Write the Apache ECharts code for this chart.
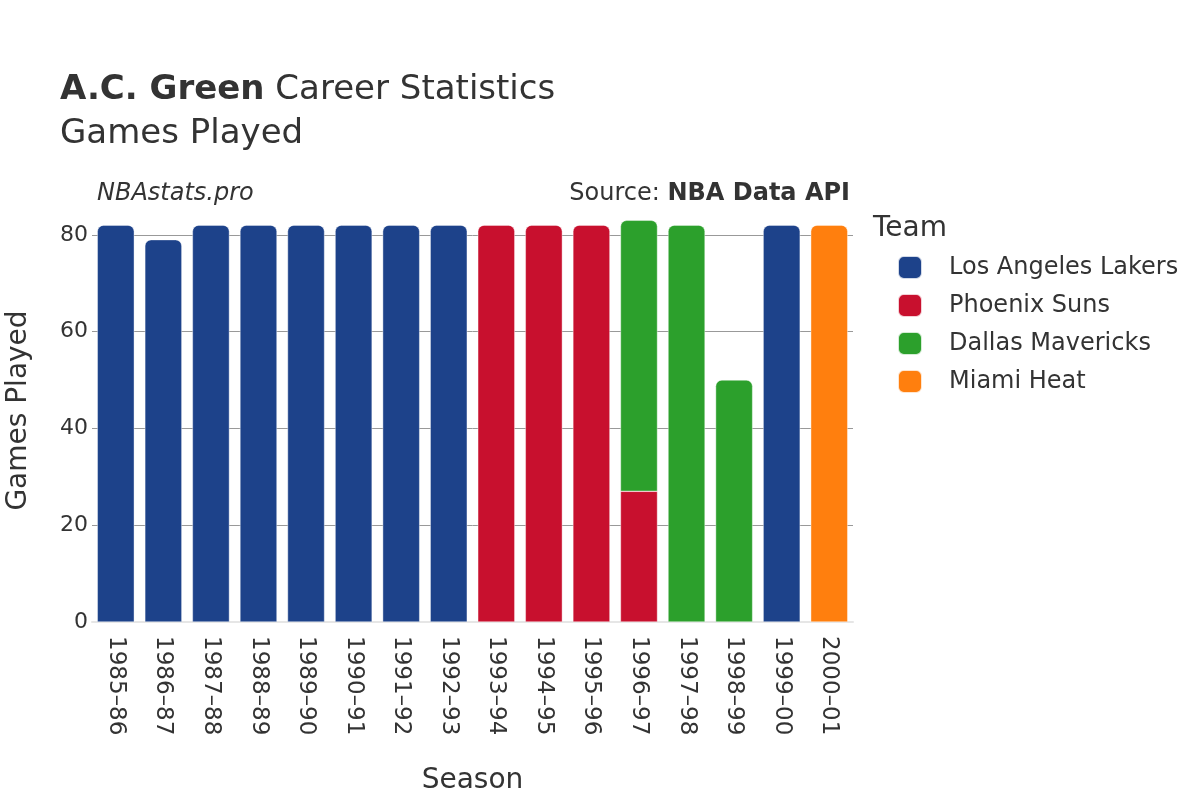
<!DOCTYPE html>
<html>
<head>
<meta charset="utf-8">
<script src="https://cdn.jsdelivr.net/npm/echarts@6/dist/echarts.min.js"></script>
<style>html,body{margin:0;padding:0;background:#fff}#c{width:1200px;height:800px}</style>
</head>
<body>
<div id="c"></div>
<script>
const seasons = ["1985–86","1986–87","1987–88","1988–89","1989–90","1990–91","1991–92","1992–93","1993–94","1994–95","1995–96","1996–97","1997–98","1998–99","1999–00","2000–01"];
const lakers = [82,79,82,82,82,82,82,82,null,null,null,null,null,null,82,null];
const suns   = [null,null,null,null,null,null,null,null,82,82,82,27,null,null,null,null];
const mavs   = [null,null,null,null,null,null,null,null,null,null,null,56,82,50,null,null];
const heat   = [null,null,null,null,null,null,null,null,null,null,null,null,null,null,null,82];
const yTicks = [0,20,40,60,80];

const teams = [
  {name:"Los Angeles Lakers", data:lakers, color:"#1d428a"},
  {name:"Phoenix Suns", data:suns, color:"#c8102e"},
  {name:"Dallas Mavericks", data:mavs, color:"#2ca02c"},
  {name:"Miami Heat", data:heat, color:"#ff7f0e"}
];

function isTop(ti, i){
  for(let k=ti+1;k<teams.length;k++){ if(teams[k].data[i]!=null) return false; }
  return true;
}

const series = teams.map((t,ti)=>({
  name:t.name, type:'bar', stack:'g', barWidth:37,
  itemStyle:{color:t.color, borderColor:'rgba(255,255,255,0.8)', borderWidth:0.5},
  data:t.data.map((v,i)=> v==null ? null : {value:v, itemStyle:{borderRadius: isTop(ti,i)?[6,6,0,0]:0}})
}));

const chart = echarts.init(document.getElementById('c'), null, {renderer:'canvas'});
const FF = '"DejaVu Sans", sans-serif';
chart.setOption({
  animation:false,
  textStyle:{fontFamily:FF},
  title:[
    {text:'{b|A.C. Green} Career Statistics', left:60, top:73, padding:0,
     textStyle:{fontFamily:FF, fontSize:34, color:'#333', fontWeight:'normal',
       rich:{b:{fontFamily:FF, fontSize:34, fontWeight:'bold', color:'#333'}}}},
    {text:'Games Played', left:60, top:117, padding:0, textStyle:{fontFamily:FF, fontSize:34, color:'#333', fontWeight:'normal'}},
    {text:'NBAstats.pro', left:97, top:182, padding:0, textStyle:{fontFamily:FF, fontSize:24, color:'#333', fontStyle:'italic', fontWeight:'normal'}},
    {text:'Source: {b|NBA Data API}', right:350, top:182, padding:0, textStyle:{fontFamily:FF, fontSize:24, color:'#333', fontWeight:'normal',
       rich:{b:{fontFamily:FF, fontSize:24, fontWeight:'bold', color:'#333'}}}},
    {text:'Team', left:873, top:215, padding:0, textStyle:{fontFamily:FF, fontSize:28, color:'#333', fontWeight:'normal'}}
  ],
  legend:{orient:'vertical', left:897, top:255, padding:0, icon:'roundRect', itemWidth:24, itemHeight:23, itemGap:13,
    textStyle:{fontFamily:FF, fontSize:24, color:'#333', padding:[0,0,0,22]}, data:teams.map(t=>t.name)},
  grid:{left:92, right:347, top:199, bottom:178, containLabel:false, outerBoundsMode:'none'},
  xAxis:{type:'category', data:seasons, name:'Season', nameLocation:'middle', nameGap:145,
    nameTextStyle:{fontFamily:FF, fontSize:28, color:'#333'},
    axisLine:{show:true, lineStyle:{color:'#e6e6e6', width:2}}, axisTick:{show:false},
    axisLabel:{rotate:-90, fontFamily:FF, fontSize:23, color:'#333', margin:14}},
  yAxis:{type:'value', min:0, max:87.4, interval:20, name:'Games Played', nameLocation:'middle', nameGap:59,
    nameTextStyle:{fontFamily:FF, fontSize:28, color:'#333'},
    axisLabel:{fontFamily:FF, fontSize:22, color:'#333', margin:4, formatter:v=> yTicks.includes(v)? String(v):''},
    splitLine:{showMaxLine:false, showMinLine:false, lineStyle:{color:'#999', width:1}}, axisLine:{show:false}, axisTick:{show:false}},
  series:series
});
</script>
</body>
</html>
